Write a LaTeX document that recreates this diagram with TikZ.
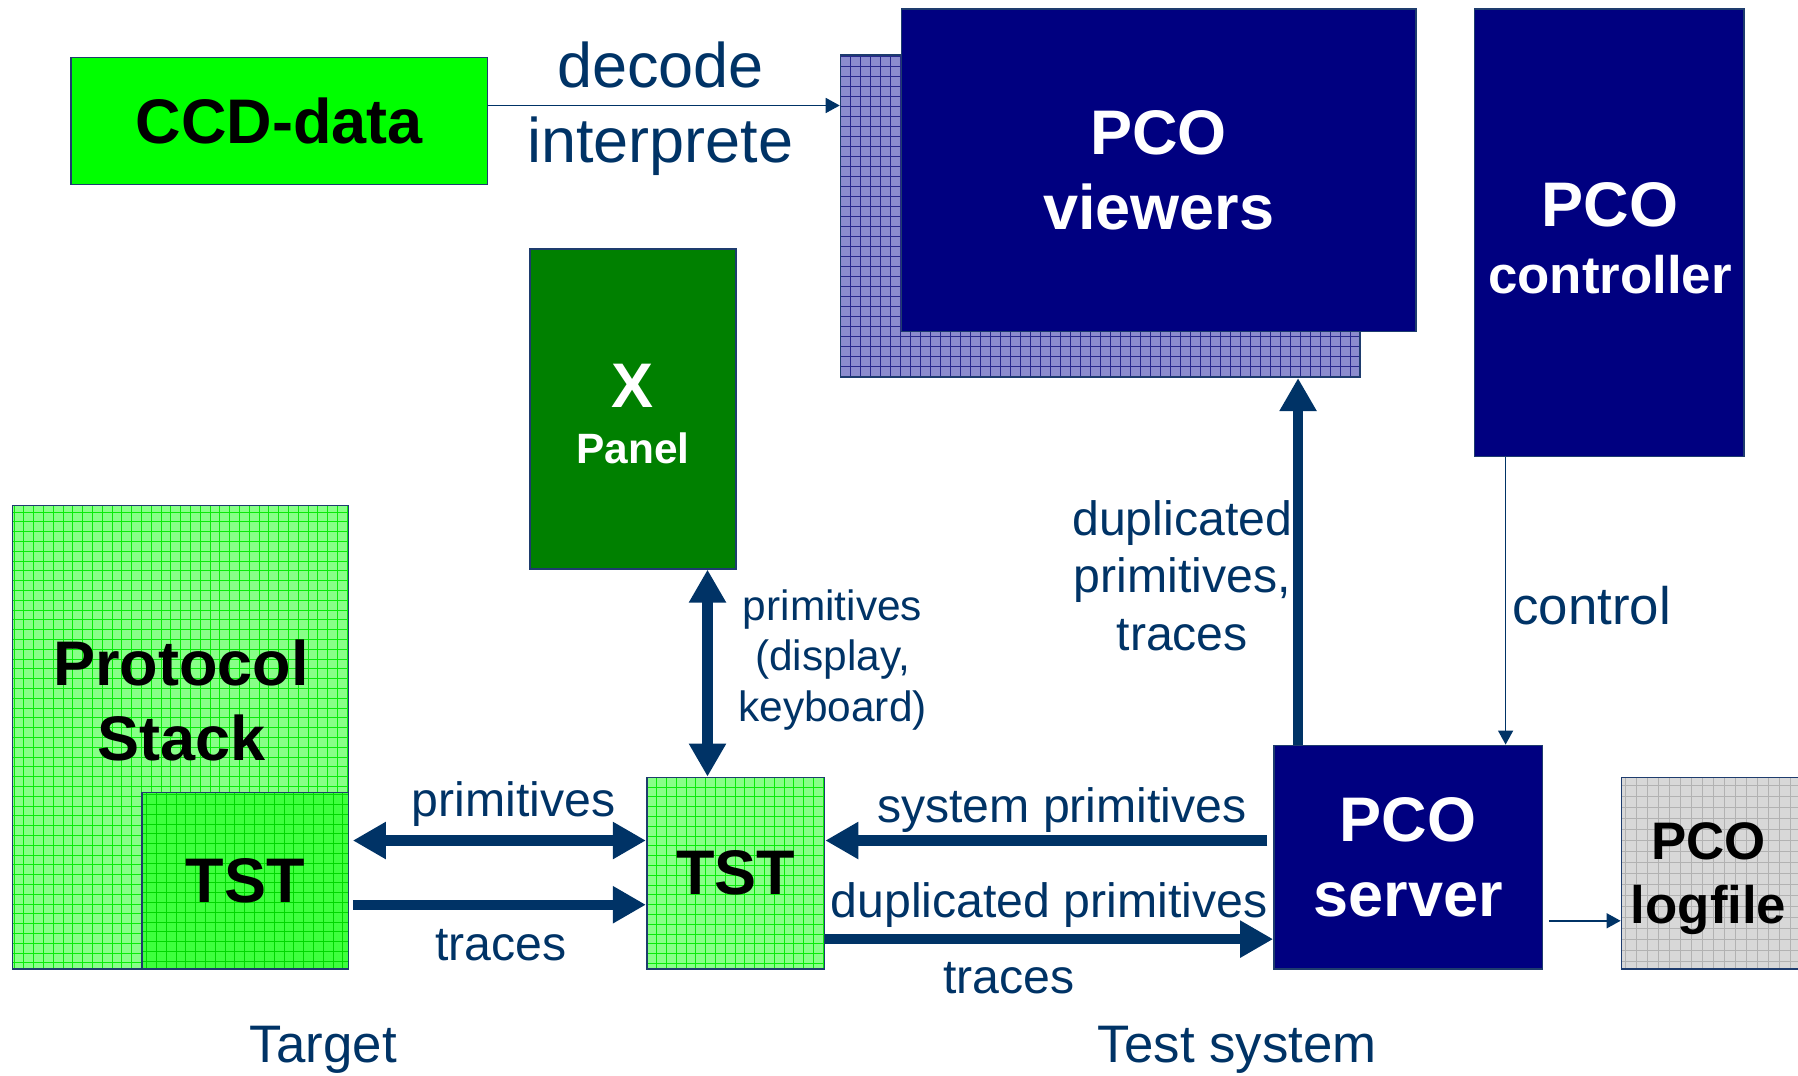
\documentclass[tikz,border=0pt]{standalone}
\usepackage{fontspec}
\setmainfont{Liberation Sans}
\usetikzlibrary{arrows.meta,calc}

% one drawing unit
\newdimen\dpx \dpx=0.57334pt

\definecolor{navy}{RGB}{0,0,128}
\definecolor{arrowblue}{RGB}{0,51,102}
\definecolor{edgeblue}{RGB}{30,60,110}
\definecolor{ccdgreen}{RGB}{0,255,0}
\definecolor{panelgreen}{RGB}{0,128,0}
\definecolor{lightgreen}{RGB}{136,255,136}
\definecolor{lightgreenline}{RGB}{10,235,10}
\definecolor{midgreen}{RGB}{62,255,62}
\definecolor{midgreenline}{RGB}{0,215,0}
\definecolor{lavender}{RGB}{140,140,206}
\definecolor{lavenderline}{RGB}{40,40,140}
\definecolor{lightgrey}{RGB}{216,216,216}
\definecolor{greyline}{RGB}{178,178,178}

\tikzset{
  bigtip/.tip={Triangle[length=16.5pt,width=17.5pt]},
  smalltip/.tip={Triangle[length=7pt,width=7.5pt]},
  box/.style={draw=edgeblue, line width=0.8pt, inner sep=0pt, align=center},
  gridbox/.style 2 args={box, fill=#1,
    path picture={\draw[line width=0.4pt, #2]
      (path picture bounding box.south west) grid
      (path picture bounding box.north east);}},
  boldbig/.style={font=\bfseries\fontsize{31.5}{37.8}\selectfont},
  navybox/.style={box, fill=navy, text=white, boldbig},
  lbl/.style={text=arrowblue, inner sep=0pt, align=center,
    font=\fontsize{24.1}{28.7}\selectfont},
  lblL/.style={lbl, font=\fontsize{26.4}{31.5}\selectfont},
  lblXL/.style={lbl, font=\fontsize{31.5}{37.8}\selectfont},
  lblS/.style={lbl, font=\fontsize{21.2}{25.2}\selectfont},
  bigline/.style={draw=arrowblue, line width=5.2pt},
  smallarrow/.style={draw=arrowblue, line width=0.75pt, -smalltip},
}

\begin{document}
\begin{tikzpicture}[x=0.57334pt, y=-0.57334pt]
\useasboundingbox (0,0) rectangle (1568,937.5);

% ---- boxes ----
\node[box, fill=ccdgreen, boldbig, minimum width=363*\dpx, minimum height=111*\dpx]
  (ccd) at (243.5,105.5) {CCD-data};

\node[gridbox={lavender}{lavenderline, step=5pt}, minimum width=453*\dpx, minimum height=281*\dpx]
  (viewersBack) at (959.5,188.5) {};
\node[navybox, minimum width=449*\dpx, minimum height=281*\dpx]
  (viewers) at (1010.5,148.5) {PCO\\viewers};

\node[navybox, font=\bfseries\fontsize{26.4}{33.3}\selectfont,
  minimum width=235*\dpx, minimum height=390*\dpx]
  (controller) at (1403.5,203) {};
\node[inner sep=0pt, align=center, text=white, font=\bfseries\fontsize{26.4}{33.3}\selectfont]
  (controllerText) at (1404,208) {{\fontsize{31.5}{33.3}\selectfont PCO}\\controller};

\node[box, fill=panelgreen, minimum width=180*\dpx, minimum height=279*\dpx]
  (panel) at (552,356.5) {};
\node[inner sep=0pt, align=center, text=white, font=\bfseries\fontsize{21.2}{28}\selectfont]
  (panelText) at (552,361) {{\fontsize{31.5}{28}\selectfont X}\\Panel};

\node[gridbox={lightgreen}{lightgreenline, step=4.9pt}, minimum width=293*\dpx, minimum height=404*\dpx]
  (stack) at (157.5,643) {};
\node[inner sep=0pt, align=center, boldbig] (stackText) at (158,611) {Protocol\\Stack};
\node[gridbox={midgreen}{midgreenline, step=4.9pt}, boldbig, minimum width=180*\dpx, minimum height=154*\dpx]
  (stackTST) at (214,768) {TST};

\node[gridbox={lightgreen}{lightgreenline, step=4.9pt}, boldbig, minimum width=155*\dpx, minimum height=167*\dpx]
  (midTST) at (641.5,761.5) {TST};

\node[navybox, minimum width=234*\dpx, minimum height=195*\dpx]
  (server) at (1228,747.5) {PCO\\server};

\begin{scope}
  \clip (0,0) rectangle (1568,937.5);
  \node[gridbox={lightgrey}{greyline, step=5.5pt}, minimum width=160*\dpx, minimum height=167*\dpx]
    (logfile) at (1494,761.5) {};
\end{scope}
\node[inner sep=0pt, align=center, font=\bfseries\fontsize{26.4}{32}\selectfont]
  (logfileText) at (1490,766) {PCO\\logfile};

% ---- connector rows and columns ----
\coordinate (yccd) at (0,92);
\coordinate (yprim) at (0,733);
\coordinate (ytrace) at (0,789);
\coordinate (ydup) at (0,819);
\coordinate (ylog) at (0,803);
\coordinate (xpanel) at (617,0);
\coordinate (xup) at (1132,0);
\coordinate (xctl) at (1313,0);

% ---- connectors ----
\draw[smallarrow] (ccd.east |- yccd) -- (viewersBack.west |- yccd);
\draw[bigline, bigtip-bigtip] ($(stackTST.east |- yprim)+(3,0)$) -- (midTST.west |- yprim);
\draw[bigline, -bigtip] ($(stackTST.east |- ytrace)+(3,0)$) -- (midTST.west |- ytrace);
\draw[bigline, -bigtip] ($(server.west |- yprim)+(-5,0)$) -- (midTST.east |- yprim);
\draw[bigline, -bigtip] (midTST.east |- ydup) -- (server.west |- ydup);
\draw[bigline, bigtip-bigtip] (panel.south -| xpanel) -- (midTST.north -| xpanel);
\draw[bigline, -bigtip] (server.north -| xup) -- (viewersBack.south -| xup);
\draw[smallarrow] (controller.south -| xctl) -- (server.north -| xctl);
\draw[smallarrow] ($(server.east |- ylog)+(5,0)$) -- (logfile.west |- ylog);

% ---- labels ----
\node[lblXL, anchor=base] (lblDecode) at (576,76) {decode};
\node[lblXL, anchor=base] (lblInterp) at (576,142) {interprete};
\node[lbl, anchor=base] (lblPrimL) at (448,712) {primitives};
\node[lbl, anchor=base] (lblTraceL) at (437,838) {traces};
\node[lbl, anchor=base] (lblSys) at (926,717) {system primitives};
\node[lbl, anchor=base] (lblDup) at (915,800) {duplicated primitives};
\node[lbl, anchor=base] (lblTraceR) at (880,866) {traces};
\node[lbl, anchor=north] (lblUp) at (1031,436) {duplicated\\primitives,\\traces};
\node[lblL, anchor=base] (lblCtl) at (1388,545) {control};
\node[lblS, anchor=north] (lblKbd) at (726,514) {primitives\\(display,\\keyboard)};
\node[lblL, anchor=base] (lblTarget) at (282,927) {Target};
\node[lblL, anchor=base] (lblTest) at (1079,927) {Test system};
\end{tikzpicture}
\end{document}
